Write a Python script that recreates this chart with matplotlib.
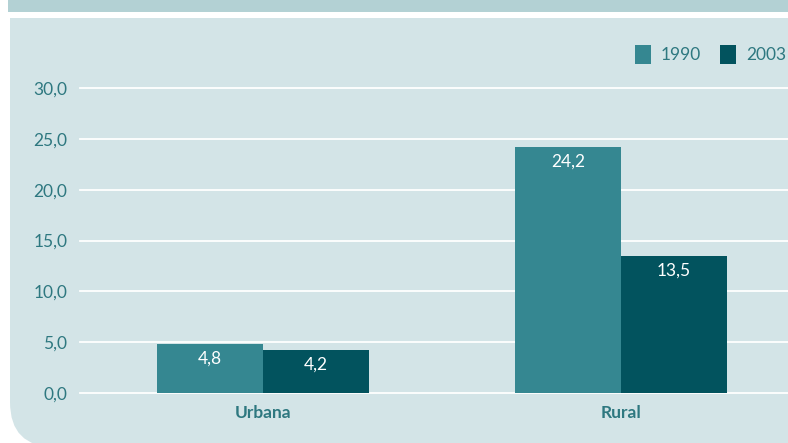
import matplotlib
matplotlib.use('Agg')
import matplotlib.pyplot as plt
from matplotlib.patches import Rectangle, FancyBboxPatch

# datos
categorias = ['Urbana', 'Rural']
series = ['1990', '2003']
valores_1990 = [4.8, 24.2]
valores_2003 = [4.2, 13.5]
ticks_y = [0, 5, 10, 15, 20, 25, 30]

col_1990 = '#358791'
col_2003 = '#02535e'
col_fondo = '#d3e4e7'
col_banda = '#b3d1d4'
col_texto = '#2e7880'

plt.rcParams['font.family'] = ['Lato', 'DejaVu Sans']

fig = plt.figure(figsize=(7.88, 4.43), dpi=100)
fig.patch.set_facecolor('white')

# fondo en pixeles
bg = fig.add_axes([0, 0, 1, 1])
bg.set_xlim(0, 788)
bg.set_ylim(443, 0)
bg.axis('off')
bg.add_patch(Rectangle((8, 0), 800, 12, color=col_banda, lw=0))
bg.add_patch(Rectangle((10, 18), 800, 300, color=col_fondo, lw=0))
bg.add_patch(FancyBboxPatch((10, 250), 850, 197, boxstyle='round,pad=0,rounding_size=45',
                            color=col_fondo, lw=0))

# area del grafico: x=80..788 px, y=0 -> 393 px, y=30 -> 88 px
x0 = 80 / 788
ax = fig.add_axes([x0, (443 - 393) / 443, 1 - x0, (393 - 88) / 443])
ax.set_facecolor('none')
ax.set_xlim(-0.511, 1.466)
ax.set_ylim(0, 30)
for s in ax.spines.values():
    s.set_visible(False)

for t in ticks_y:
    ax.axhline(t, color='white', lw=1.3, zorder=0, clip_on=False)

ancho = 0.296
xs = list(range(len(categorias)))
b1 = ax.bar([x - ancho / 2 for x in xs], valores_1990, ancho, color=col_1990, zorder=2)
b2 = ax.bar([x + ancho / 2 for x in xs], valores_2003, ancho, color=col_2003, zorder=2)

for barras, vals in ((b1, valores_1990), (b2, valores_2003)):
    for b, v in zip(barras, vals):
        ax.annotate(f'{v:.1f}'.replace('.', ','), (b.get_x() + b.get_width() / 2, v),
                    xytext=(0, -10.5), textcoords='offset points', ha='center', va='center',
                    color='white', fontsize=12.5, zorder=3)

ax.set_yticks(ticks_y)
ax.set_yticklabels([f'{t:.1f}'.replace('.', ',') for t in ticks_y], color=col_texto, fontsize=12.5)
ax.set_xticks(xs)
ax.set_xticklabels(categorias, color=col_texto, fontsize=12.5, fontweight='bold')
ax.tick_params(axis='both', length=0)
ax.tick_params(axis='y', pad=9)
ax.tick_params(axis='x', pad=9)

# leyenda (cortada a la derecha como en el original)
leg = fig.legend([b1, b2], series, loc='upper left', bbox_to_anchor=(628 / 788, 1 - 38 / 443),
                 ncol=2, frameon=False, fontsize=12.5, handlelength=0.9, handleheight=1.3,
                 handletextpad=0.6, columnspacing=1.1, borderaxespad=0)
for txt in leg.get_texts():
    txt.set_color(col_texto)

fig.savefig('out.png', dpi=100, facecolor=fig.get_facecolor())
